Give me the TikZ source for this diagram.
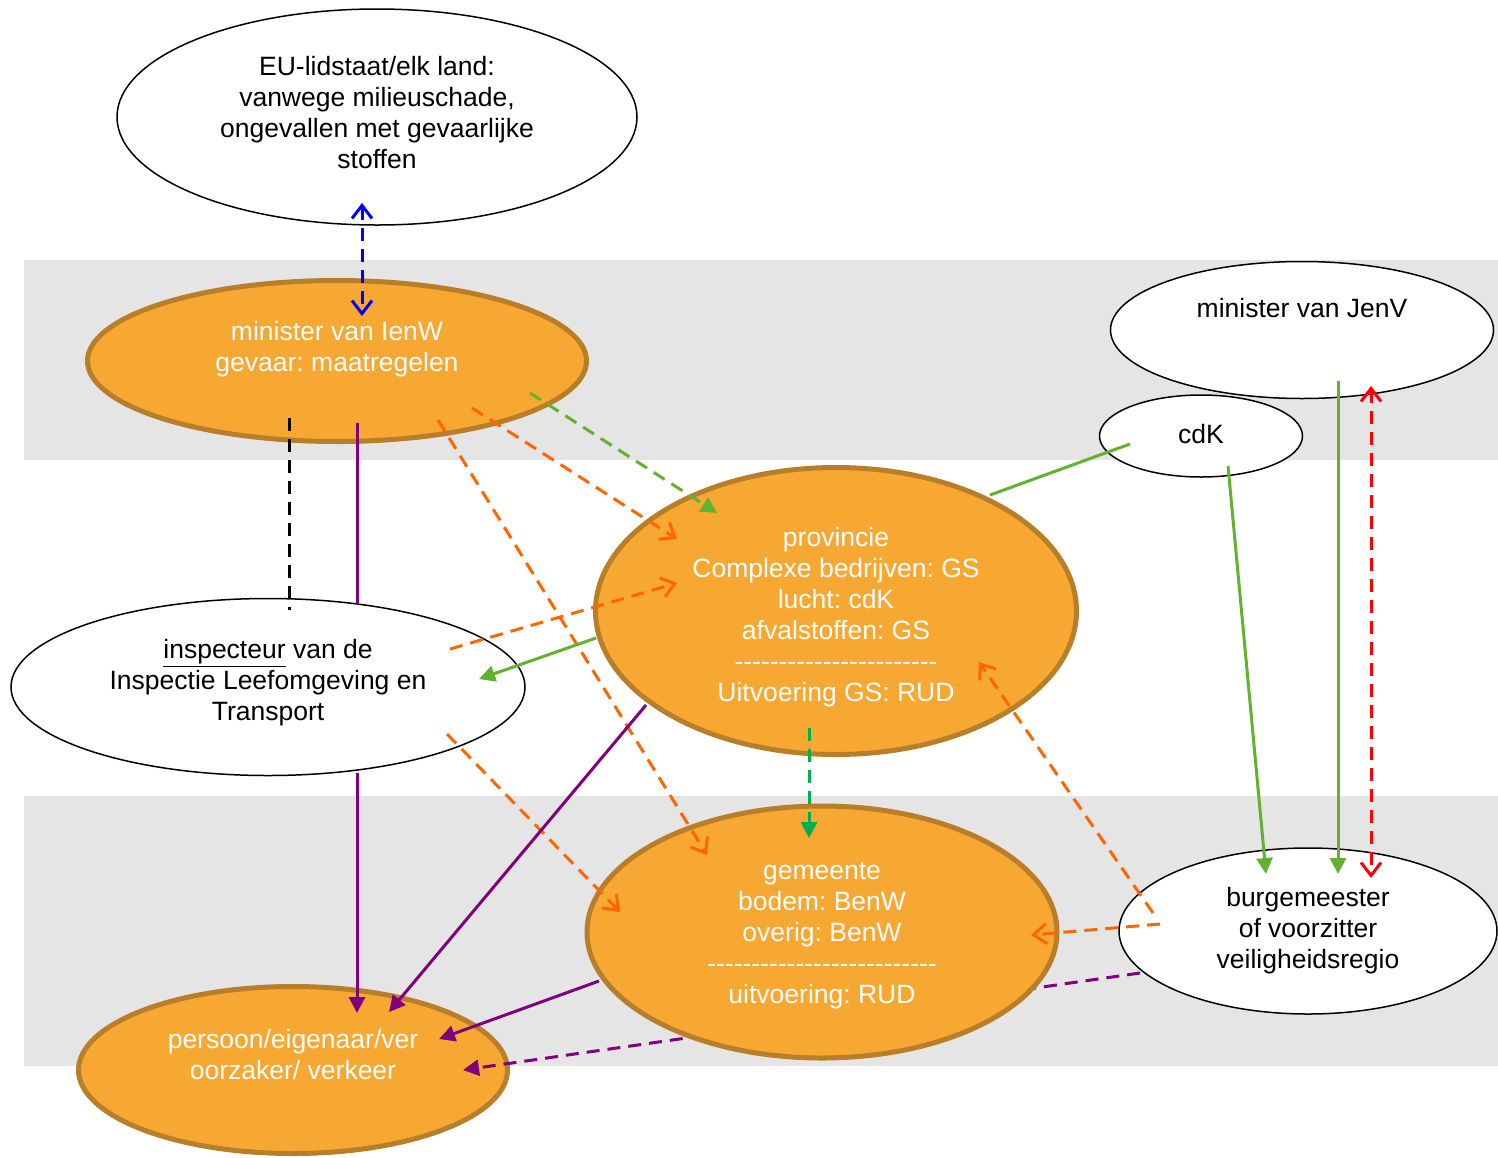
\documentclass[tikz,border=0pt]{standalone}
\usepackage{fontspec}
\setmainfont{Liberation Sans}
\frenchspacing
\usetikzlibrary{shapes.geometric,arrows.meta}
\definecolor{bandgray}{HTML}{E5E5E5}
\definecolor{orfill}{HTML}{F6A833}
\definecolor{ordraw}{HTML}{B87E29}
\definecolor{lgreen}{HTML}{62B22F}
\definecolor{dgreen}{HTML}{00B050}
\definecolor{orline}{HTML}{FF6600}
\definecolor{purp}{HTML}{800080}
\newcommand\hyphrow[1]{\foreach\i in {1,...,#1}{-}}
\tikzset{
  barb/.tip={Straight Barb[length=13pt,width=20pt]},
  tri/.tip={Triangle[length=16pt,width=16pt]},
}
\begin{document}
\begin{tikzpicture}[x=1pt,y=-1pt,
  every node/.style={font=\fontsize{26.5}{31}\selectfont},
  wnode/.style={ellipse, draw=black, line width=1.5pt, fill=white, inner sep=0pt, align=center, text=black},
  onode/.style={ellipse, draw=ordraw, line width=5pt, fill=orfill, inner sep=0pt, align=center, text=white},
  band/.style={fill=bandgray, draw=none},
  conn/.style={line width=3pt},
  dsh/.style={dash pattern=on 13pt off 8pt},
]
\useasboundingbox (0,0) rectangle (1498,1157);
% bands
\fill[band] (24,260) rectangle (1498,460);
\fill[band] (24,796) rectangle (1498,1066);

% persoon (below the dashed purple connector)
\node[onode, minimum width=429pt, minimum height=167pt,
  label={[align=center,text=white,yshift=15.5pt]center:persoon/eigenaar/ver\\oorzaker/ verkeer}]
  (persoon) at (293,1070) {};

% purple dashed connector, passing behind gemeente
\coordinate (pdA) at (1140,973);
\coordinate (pdB) at (463,1070);
\draw[conn, dsh, purp, -tri] (pdA) -- (pdB);

% nodes
\node[wnode, minimum width=520pt, minimum height=216pt,
  label={[align=center,text=black,yshift=4pt]center:EU-lidstaat/elk land:\\vanwege milieuschade,\\ongevallen met gevaarlijke\\stoffen}]
  (eu) at (377,117) {};
\node[onode, minimum width=499pt, minimum height=161pt,
  label={[align=center,text=white,yshift=11.5pt]center:minister van IenW\\gevaar: maatregelen}]
  (ienw) at (337,361) {};
\node[wnode, minimum width=383pt, minimum height=137pt,
  label={[align=center,text=black,yshift=22pt]center:minister van JenV}]
  (jenv) at (1302,330) {};
\node[wnode, minimum width=203pt, minimum height=82pt,
  label={[text=black,yshift=2pt]center:cdK}] (cdk) at (1201,436) {};
\node[onode, minimum width=481pt, minimum height=287pt,
  label={[align=center,text=white,yshift=-6pt]center:provincie\\Complexe bedrijven: GS\\lucht: cdK\\afvalstoffen: GS\\\hyphrow{23}\\Uitvoering GS: RUD}]
  (prov) at (836,611) {};
\node[wnode, minimum width=514pt, minimum height=177pt,
  label={[align=center,text=black,yshift=4pt]center:\underline{inspecteur} van de\\Inspectie Leefomgeving en\\Transport}]
  (insp) at (268,687) {};
\node[onode, minimum width=470pt, minimum height=252pt,
  label={[align=center,text=white,yshift=-3.5pt]center:gemeente\\bodem: BenW\\overig: BenW\\\hyphrow{26}\\uitvoering: RUD}]
  (gem) at (822,932) {};
\node[wnode, minimum width=378pt, minimum height=166pt] (burg) at (1308,931)
  {burgemeester\\of voorzitter\\veiligheidsregio};

% connector end points
\coordinate (euB) at (362,203);
\coordinate (ienwT) at (362,316);
\coordinate (kA) at (289,418);
\coordinate (kB) at (289,610);
\coordinate (pA) at (357,423);
\coordinate (pB) at (357,603);
\coordinate (pC) at (357,773);
\coordinate (pD) at (357,1013);
\coordinate (gA) at (530,393);
\coordinate (gB) at (717,513);
\coordinate (oA) at (472,408);
\coordinate (oB) at (677,539);
\coordinate (oC) at (438,420);
\coordinate (oD) at (707,855);
\coordinate (oE) at (450,649);
\coordinate (oF) at (677,583);
\coordinate (gC) at (596,638);
\coordinate (gD) at (479,679);
\coordinate (oG) at (447,734);
\coordinate (oH) at (620,912);
\coordinate (pE) at (646,705);
\coordinate (pF) at (389,1012);
\coordinate (gE) at (990,495);
\coordinate (gF) at (1130,444);
\coordinate (gG) at (1228,466);
\coordinate (gH) at (1266,874);
\coordinate (gI) at (1338,381);
\coordinate (gJ) at (1338,874);
\coordinate (rA) at (1371,386);
\coordinate (rB) at (1371,878);
\coordinate (oI) at (1153,913);
\coordinate (oJ) at (979,662);
\coordinate (oK) at (1160,924);
\coordinate (oL) at (1031,935);
\coordinate (dA) at (809,728);
\coordinate (dB) at (809,838);
\coordinate (pG) at (599,981);
\coordinate (pH) at (439,1039);

% connectors
\draw[conn, dsh, blue, barb-barb] (euB) -- (ienwT);
\draw[conn, dsh, black] (kA) -- (kB);
\draw[conn, purp] (pA) -- (pB);
\draw[conn, purp, -tri] (pC) -- (pD);
\draw[conn, dsh, lgreen, -tri] (gA) -- (gB);
\draw[conn, dsh, orline, -barb] (oA) -- (oB);
\draw[conn, dsh, orline, -barb] (oC) -- (oD);
\draw[conn, dsh, orline, -barb] (oE) -- (oF);
\draw[conn, lgreen, -tri] (gC) -- (gD);
\draw[conn, dsh, orline, -barb] (oG) -- (oH);
\draw[conn, purp, -tri] (pE) -- (pF);
\draw[conn, lgreen] (gE) -- (gF);
\draw[conn, lgreen, -tri] (gG) -- (gH);
\draw[conn, lgreen, -tri] (gI) -- (gJ);
\draw[conn, dsh, red, barb-barb] (rA) -- (rB);
\draw[conn, dsh, orline, -barb] (oI) -- (oJ);
\draw[conn, dsh, orline, -barb] (oK) -- (oL);
\draw[conn, dsh, dgreen, -tri] (dA) -- (dB);
\draw[conn, purp, -tri] (pG) -- (pH);
\end{tikzpicture}
\end{document}
